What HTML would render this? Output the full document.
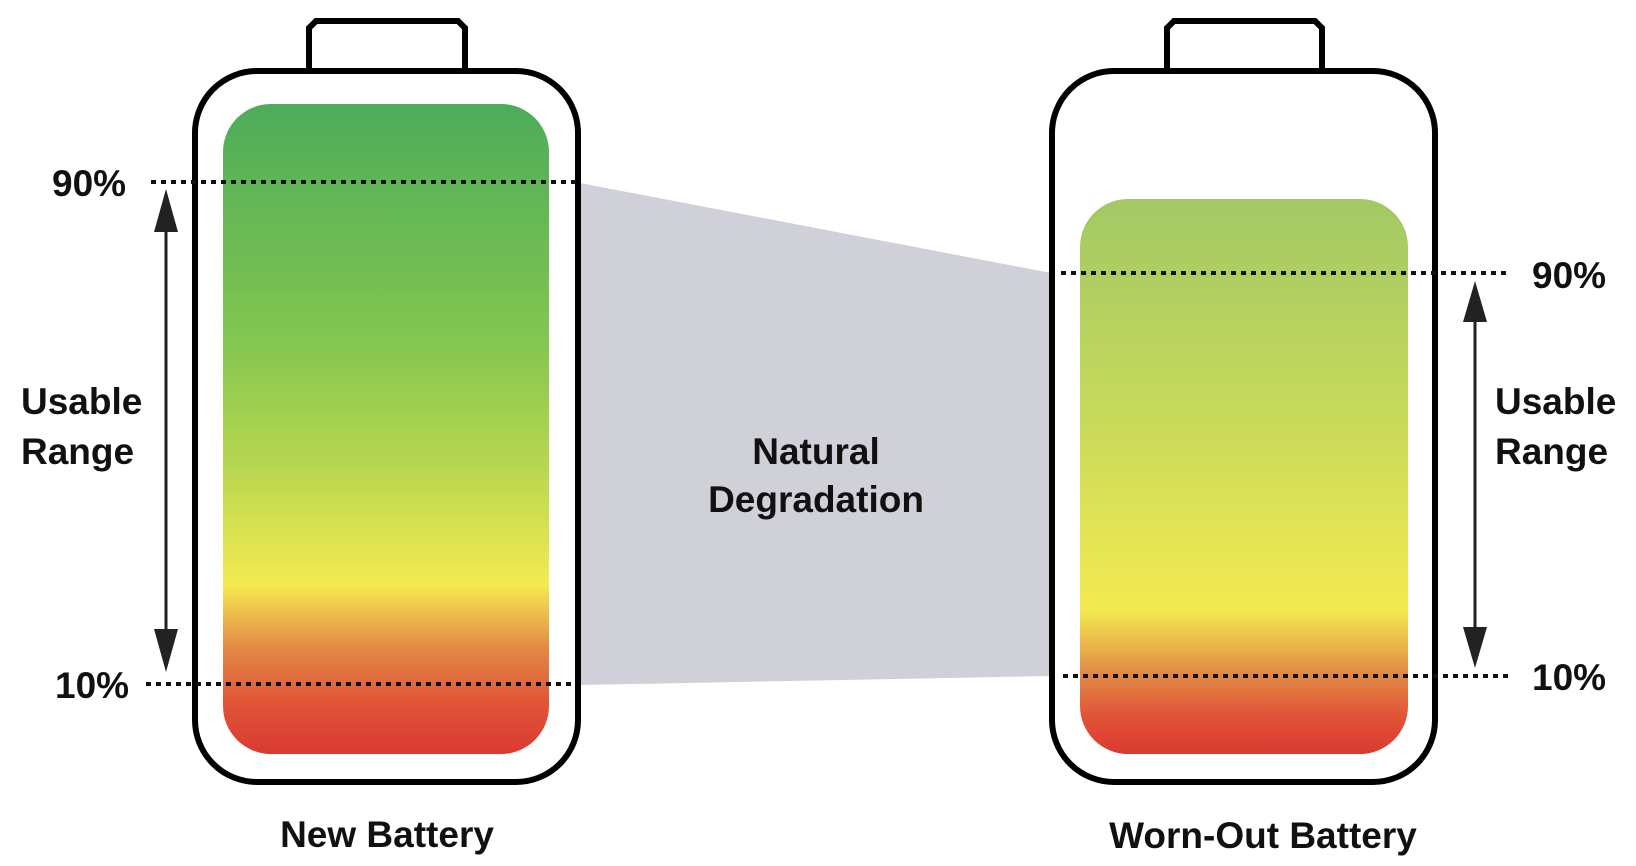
<!DOCTYPE html>
<html><head><meta charset="utf-8"><style>
html,body{margin:0;padding:0;background:#fff;}
svg{display:block}
text{font-family:"Liberation Sans",sans-serif;font-weight:bold;fill:#111;}
</style></head><body>
<svg width="1636" height="866" viewBox="0 0 1636 866" xmlns="http://www.w3.org/2000/svg">
<defs>
<linearGradient id="gL" x1="0" y1="0" x2="0" y2="1">
<stop offset="0" stop-color="#4dac5a"/>
<stop offset="0.35" stop-color="#80c550"/>
<stop offset="0.55" stop-color="#b5d650"/>
<stop offset="0.74" stop-color="#f4ea50"/>
<stop offset="0.84" stop-color="#e18745"/>
<stop offset="0.92" stop-color="#e05538"/>
<stop offset="1" stop-color="#da3a31"/>
</linearGradient>
<linearGradient id="gR" x1="0" y1="0" x2="0" y2="1">
<stop offset="0" stop-color="#a2c865"/>
<stop offset="0.4" stop-color="#c8da5a"/>
<stop offset="0.74" stop-color="#f4ea50"/>
<stop offset="0.86" stop-color="#e08745"/>
<stop offset="0.93" stop-color="#e05538"/>
<stop offset="1" stop-color="#da3a31"/>
</linearGradient>
</defs>
<polygon points="580,183 1051,273 1051,676 580,685" fill="#cfd0d8"/>
<!-- left battery -->
<path d="M309,68 V28 L316,21 H458 L465,28 V68" fill="none" stroke="#000" stroke-width="6"/>
<rect x="195" y="71" width="383" height="711" rx="62" fill="#fff" stroke="#000" stroke-width="6"/>
<rect x="223" y="104" width="326" height="650" rx="48" fill="url(#gL)"/>
<!-- right battery -->
<path d="M1167,68 V28 L1174,21 H1315 L1322,28 V68" fill="none" stroke="#000" stroke-width="6"/>
<rect x="1052" y="71" width="383" height="711" rx="62" fill="#fff" stroke="#000" stroke-width="6"/>
<rect x="1080" y="199" width="328" height="555" rx="48" fill="url(#gR)"/>
<!-- dotted lines -->
<g stroke="#111" stroke-width="4" stroke-dasharray="5,5">
<line x1="151" y1="182" x2="578" y2="182"/>
<line x1="146" y1="684" x2="576" y2="684"/>
<line x1="1061" y1="273" x2="1509" y2="273"/>
<line x1="1063" y1="676" x2="1509" y2="676"/>
</g>
<!-- arrows -->
<g fill="#222" stroke="#222">
<line x1="166" y1="225" x2="166" y2="640" stroke-width="3"/>
<polygon points="166,189 154,232 178,232" stroke="none"/>
<polygon points="166,672 154,629 178,629" stroke="none"/>
<line x1="1475" y1="315" x2="1475" y2="635" stroke-width="3"/>
<polygon points="1475,281 1463,322 1487,322" stroke="none"/>
<polygon points="1475,668 1463,627 1487,627" stroke="none"/>
</g>
<!-- labels -->
<g font-size="37">
<text x="52" y="196">90%</text>
<text x="55" y="698">10%</text>
<text x="1532" y="288">90%</text>
<text x="1532" y="690">10%</text>
<text x="21" y="414">Usable</text>
<text x="21" y="464">Range</text>
<text x="1495" y="414">Usable</text>
<text x="1495" y="464">Range</text>
<text x="816" y="464" text-anchor="middle">Natural</text>
<text x="816" y="512" text-anchor="middle">Degradation</text>
<text x="387" y="847" text-anchor="middle">New Battery</text>
<text x="1263" y="848" text-anchor="middle">Worn-Out Battery</text>
</g>
</svg>
</body></html>
